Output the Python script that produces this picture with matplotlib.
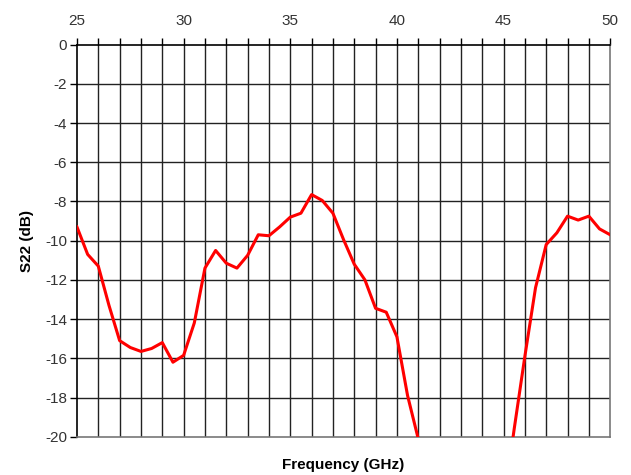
import numpy as np
import matplotlib.pyplot as plt

plt.rcParams['font.family'] = ['Liberation Sans', 'DejaVu Sans']
plt.rcParams['axes.unicode_minus'] = False

# S22 readings (GHz, dB); points below -20 dB are clipped by the axes
freq = [25.0, 25.5, 26.0, 26.5, 27.0, 27.5, 28.0, 28.5, 29.0, 29.5,
        30.0, 30.5, 31.0, 31.5, 32.0, 32.5, 33.0, 33.5, 34.0, 34.5,
        35.0, 35.5, 36.0, 36.5, 37.0, 37.5, 38.0, 38.5, 39.0, 39.5,
        40.0, 40.5, 41.0, 41.5, 45.0, 45.5, 46.0, 46.5, 47.0, 47.5,
        48.0, 48.5, 49.0, 49.5, 50.0]
s22 = [-9.3, -10.7, -11.3, -13.3, -15.1, -15.45, -15.65, -15.5, -15.2, -16.2,
       -15.85, -14.2, -11.4, -10.5, -11.15, -11.4, -10.75, -9.7, -9.75, -9.3,
       -8.8, -8.6, -7.65, -7.95, -8.6, -9.95, -11.2, -12.0, -13.45, -13.65,
       -14.9, -17.9, -20.1, -23.0, -23.5, -19.6, -15.9, -12.4, -10.2, -9.6,
       -8.75, -8.95, -8.75, -9.4, -9.7]

fig = plt.figure(figsize=(6.31, 4.75), dpi=100)
ax = fig.add_axes([0.122, 0.0806, 0.845, 0.8255])

ax.set_xlim(25, 50)
ax.set_ylim(-20, 0)

# vertical grid every 1 GHz, horizontal every 2 dB
for xg in range(26, 50):
    ax.axvline(xg, color='#222222', lw=1.0, zorder=1)
for yg in range(-18, 0, 2):
    ax.axhline(yg, color='#222222', lw=1.0, zorder=1)

ax.plot(freq, s22, color='#ff0000', lw=2.2, zorder=3, clip_on=True)

ax.xaxis.tick_top()
ax.set_xticks(range(25, 51, 5))
ax.set_xticks(range(25, 51, 1), minor=True)
ax.set_yticks(range(-20, 1, 2))
ax.tick_params(axis='x', which='major', length=5, width=1, colors='black',
               labelcolor='#333333', labelsize=11, pad=7)
ax.tick_params(axis='x', which='minor', length=5, width=1, color='black')
ax.tick_params(axis='y', length=5, width=1, colors='black',
               labelcolor='#333333', labelsize=11, pad=2)

ax.spines['top'].set_color('black')
ax.spines['left'].set_color('black')
ax.spines['bottom'].set_color('#777777')
ax.spines['right'].set_color('#777777')
for s in ax.spines.values():
    s.set_linewidth(1.2)

ax.set_ylabel('S22 (dB)', fontsize=11, fontweight='bold', labelpad=8)
fig.text(0.543, 0.022, 'Frequency (GHz)', ha='center', va='center',
         fontsize=11, fontweight='bold')

fig.savefig('out.png', dpi=100)
